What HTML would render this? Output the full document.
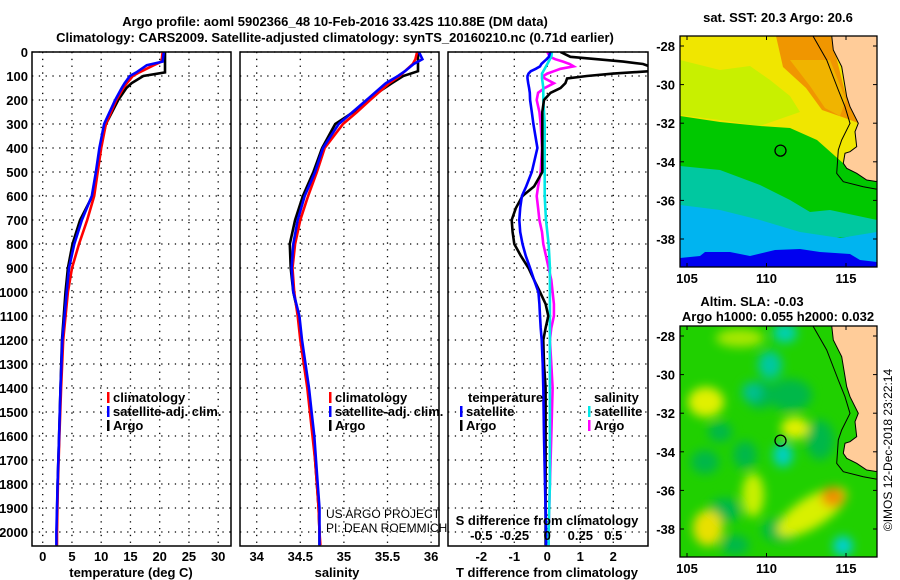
<!DOCTYPE html>
<html><head><meta charset="utf-8">
<style>
html,body{margin:0;padding:0;background:#fff;width:900px;height:580px;overflow:hidden}
svg{display:block;font-family:"Liberation Sans",Arial,sans-serif}
.b{font-weight:bold;font-size:13px}
.n{font-weight:normal;font-size:12px}
</style></head>
<body>
<svg id="fig" width="900" height="580" viewBox="0 0 900 580" xmlns="http://www.w3.org/2000/svg">
<text x="335" y="26" text-anchor="middle" class="b" font-size="14">Argo profile: aoml 5902366_48 10-Feb-2016 33.42S 110.88E (DM data)</text>
<text x="335" y="42" text-anchor="middle" class="b" font-size="14">Climatology: CARS2009. Satellite-adjusted climatology: synTS_20160210.nc (0.71d earlier)</text>
<g id="plots"></g>
<defs>
<filter id="blur" x="-30%" y="-30%" width="160%" height="160%"><feGaussianBlur stdDeviation="5"/></filter>
<clipPath id="clip1"><rect x="680" y="36" width="197" height="231"/></clipPath>
<clipPath id="clip2"><rect x="680" y="326" width="197" height="231"/></clipPath>
</defs>
<g clip-path="url(#clip1)">
<rect x="680" y="36" width="197" height="231" fill="#f0e600"/>
<polygon fill="#c8f000" points="680,60 720,70 750,66 770,80 790,96 800,112 760,126 720,120 680,115"/>
<polygon fill="#f09600" points="776,36 831,36 846,96 858,123 845,118 822,110 806,88 783,67"/>
<polygon fill="#f0b400" points="790,60 810,86 825,108 840,116 846,100 838,80 830,60"/>
<polygon fill="#00c800" points="680,116 720,122 760,126 790,128 817,140 835,156 843,163 846,168 857,173 877,182 877,250 840,240 800,225 760,215 720,205 680,200"/>
<polygon fill="#00c8a0" points="680,166 720,170 760,185 790,200 810,212 830,210 877,220 877,235 830,238 780,235 740,225 700,212 680,210"/>
<polygon fill="#00b4f0" points="680,205 720,210 760,220 800,232 840,238 877,232 877,267 680,267"/>
<polygon fill="#0000f0" points="680,258 700,256 705,252 730,252 750,256 775,250 800,249 820,252 850,254 860,260 877,262 877,267 680,267"/>
<path d="M831.7,35.7 L833.3,50 L841.7,66.7 L846.7,96.7 L850,106.7 L858.3,123.3 L855,131.7 L856.7,146.7 L850,151.7 L845,153.3 L843.3,163.3 L846.7,168.3 L856.7,173.3 L866.7,180 L877.3,181.7 L877,36 Z" fill="#ffcc99" stroke="#000" stroke-width="1"/>
<polyline points="813,36 826.7,60 838.3,90 845,106.7 850,123.3 841.7,140 838.3,150 836.7,173.3 843.3,181.7 863.3,186.7 877.3,189.3" fill="none" stroke="#000" stroke-width="1"/>
</g>
<g clip-path="url(#clip2)">
<rect x="680" y="326" width="197" height="231" fill="#20d000"/>
<g filter="url(#blur)">
<ellipse cx="705" cy="462" rx="14" ry="12" fill="#00b848"/>
<ellipse cx="720" cy="432" rx="12" ry="10" fill="#00b848"/>
<ellipse cx="745" cy="455" rx="12" ry="14" fill="#00b848"/>
<ellipse cx="725" cy="510" rx="16" ry="12" fill="#00b848"/>
<ellipse cx="735" cy="545" rx="14" ry="10" fill="#00b848"/>
<ellipse cx="790" cy="395" rx="22" ry="16" fill="#00b848"/>
<ellipse cx="820" cy="440" rx="14" ry="20" fill="#00b848"/>
<ellipse cx="780" cy="530" rx="18" ry="12" fill="#00b848"/>
<ellipse cx="760" cy="395" rx="14" ry="14" fill="#00b848"/>
<ellipse cx="706" cy="402" rx="18" ry="15" fill="#e0f000"/>
<ellipse cx="708" cy="528" rx="15" ry="18" fill="#e8e000"/>
<ellipse cx="812" cy="512" rx="40" ry="15" fill="#d8f000" transform="rotate(-32 812 512)"/>
<ellipse cx="833" cy="497" rx="12" ry="10" fill="#f09000"/>
<ellipse cx="795" cy="428" rx="14" ry="11" fill="#e0f000"/>
<ellipse cx="753" cy="495" rx="11" ry="22" fill="#c8f000"/>
<ellipse cx="740" cy="338" rx="24" ry="9" fill="#a8e800"/>
<ellipse cx="783" cy="455" rx="10" ry="12" fill="#00d0c0"/>
<ellipse cx="843" cy="546" rx="10" ry="10" fill="#00d0d0"/>
<ellipse cx="785" cy="333" rx="12" ry="10" fill="#00d0b0"/>
<ellipse cx="770" cy="365" rx="12" ry="14" fill="#00c8a0"/>
<ellipse cx="752" cy="392" rx="10" ry="10" fill="#00c090"/>
</g>
<path d="M831.7,325.7 L833.3,340 L841.7,356.7 L846.7,386.7 L850,396.7 L858.3,413.3 L855,421.7 L856.7,436.7 L850,441.7 L845,443.3 L843.3,453.3 L846.7,458.3 L856.7,463.3 L866.7,470 L877.3,471.7 L877,326 Z" fill="#ffcc99" stroke="#000" stroke-width="1"/>
<polyline points="813,326 826.7,350 838.3,380 845,396.7 850,413.3 841.7,430 838.3,440 836.7,463.3 843.3,471.7 863.3,476.7 877.3,479.3" fill="none" stroke="#000" stroke-width="1"/>
</g>
<g><text x="778" y="22" text-anchor="middle" class="b">sat. SST: 20.3 Argo: 20.6</text></g>
<text x="752" y="306" text-anchor="middle" class="b">Altim. SLA: -0.03</text>
<text x="778" y="321" text-anchor="middle" class="b">Argo h1000: 0.055 h2000: 0.032</text>
<text transform="translate(892,450) rotate(-90)" text-anchor="middle" class="n">©IMOS 12-Dec-2018 23:22:14</text>
<g id="maps"></g>
</svg>
<script>
// ---------- data ----------
const depthT = [0,40,55,85,100,130,150,200,300,400,500,600,700,800,900,1000,1200,1400,1600,1800,2000,2055];
const tempArgo = [20.9,20.9,20.9,20.9,17.2,15.2,14.3,12.9,10.8,9.8,9.2,8.5,6.4,5.1,4.3,3.9,3.3,3.05,2.8,2.55,2.4,2.4];
const tempClim = [20.5,20.3,19.0,16.5,15.4,14.4,13.8,12.6,10.8,10.0,9.4,8.8,7.6,6.2,5.0,4.3,3.5,3.15,2.85,2.6,2.45,2.45];
const tempSat  = [20.7,20.5,17.8,16.0,14.9,14.0,13.5,12.4,10.5,9.7,9.1,8.4,6.7,5.4,4.5,4.1,3.35,3.05,2.8,2.55,2.35,2.35];
const depthS = [0,30,50,80,100,130,200,250,300,400,500,600,700,800,900,1000,1100,1200,1300,1400,1500,1600,1700,1800,1900,2000,2055];
const salArgo = [35.85,35.85,35.85,35.85,35.68,35.55,35.26,35.11,34.90,34.75,34.65,34.53,34.44,34.38,34.39,34.42,34.48,34.51,34.55,34.59,34.62,34.65,34.67,34.69,34.71,34.72,34.72];
const salClim = [35.84,35.82,35.79,35.70,35.64,35.52,35.30,35.15,34.99,34.78,34.69,34.59,34.50,34.44,34.41,34.43,34.47,34.50,34.54,34.58,34.61,34.64,34.67,34.69,34.71,34.72,34.73];
const salSat  = [35.86,35.90,35.80,35.70,35.62,35.48,35.26,35.10,34.94,34.76,34.67,34.55,34.47,34.42,34.40,34.42,34.49,34.52,34.56,34.60,34.63,34.66,34.68,34.70,34.72,34.72,34.72];
const depthD = [0,20,30,40,50,60,70,80,90,100,110,130,150,170,200,250,300,400,500,560,600,650,700,750,800,850,900,950,1000,1050,1100,1150,1200,1300,1400,1600,1800,2000,2055];
const dTArgo = [0.4,0.7,1.5,2.3,2.9,3.1,3.1,3.1,2.0,1.2,0.6,0.55,0.4,0.1,-0.1,-0.15,-0.15,-0.15,-0.15,-0.4,-0.75,-0.95,-1.08,-1.05,-1.0,-0.8,-0.57,-0.4,-0.22,-0.05,0.03,-0.05,-0.12,-0.1,-0.05,-0.05,-0.05,-0.05,-0.05];
const dTSat  = [0.09,0.05,-0.02,-0.1,-0.18,-0.22,-0.35,-0.5,-0.57,-0.6,-0.6,-0.58,-0.55,-0.53,-0.52,-0.47,-0.42,-0.3,-0.47,-0.64,-0.77,-0.82,-0.85,-0.82,-0.75,-0.65,-0.52,-0.4,-0.27,-0.24,-0.22,-0.2,-0.17,-0.14,-0.12,-0.1,-0.07,-0.04,-0.04];
const dSArgo = [0.0,0.02,0.06,0.12,0.17,0.2,0.1,0.05,0.0,-0.03,-0.02,0.05,-0.02,-0.07,-0.08,-0.06,-0.05,-0.04,-0.05,-0.07,-0.08,-0.07,-0.06,-0.04,-0.03,-0.01,0.01,0.03,0.04,0.05,0.05,0.03,0.02,0.03,0.04,0.03,0.02,0.01,0.01];
const dSSat  = [0.035,0.03,0.02,0.01,0.0,-0.01,-0.02,-0.03,-0.04,-0.04,-0.04,-0.035,-0.03,-0.03,-0.03,-0.025,-0.02,-0.02,-0.02,-0.02,-0.02,-0.015,-0.01,0.0,0.01,0.015,0.02,0.02,0.02,0.02,0.02,0.02,0.02,0.02,0.02,0.02,0.02,0.01,0.01];
const depthTicks = [0,100,200,300,400,500,600,700,800,900,1000,1100,1200,1300,1400,1500,1600,1700,1800,1900,2000];
const tempTicks = [0,5,10,15,20,25,30];
const salTicks = ["34","34.5","35","35.5","36"];
const dTTicks = [-2,-1,0,1,2];
const dSTicks = ["-0.5","-0.25","0","0.25","0.5"];
const latTicks = [-28,-30,-32,-34,-36,-38];
const lonTicks = [105,110,115];
const argoLon = 110.88, argoLat = -33.42;

// ---------- scales ----------
const TOP=52, BOT=546;
const yD = d => TOP + 0.24*d;
const xT = t => 42.7 + 5.85*t;
const xS = s => 256.7 + 87.2*(s-34);
const xdT = t => 547.3 + 33*t;
const xdS = s => 547.3 + 132*s;
const lonX = lo => 687 + 15.9*(lo-105);
const latY = (la,off) => off + 46 + 19.3*(-28-la);

const NS="http://www.w3.org/2000/svg";
const g=document.getElementById('plots');
function mk(tag,attrs,parent){const e=document.createElementNS(NS,tag);for(const k in attrs)e.setAttribute(k,attrs[k]);(parent||g).appendChild(e);return e;}
function txt(s,x,y,anchor,cls,parent){const e=mk('text',{x:x,y:y,'text-anchor':anchor||'middle',class:cls||'b'},parent);e.textContent=s;return e;}

const panels=[{x0:32,x1:231,name:'temperature-panel'},{x0:240,x1:439,name:'salinity-panel'},{x0:448,x1:648,name:'difference-panel'}];
panels.forEach(p=>{
  const pg=mk('g',{});
  
  
  p.g=pg;
  depthTicks.forEach(d=>{mk('line',{x1:p.x0,x2:p.x1,y1:yD(d),y2:yD(d),stroke:'#000','stroke-width':1.3,'stroke-dasharray':'1.3,5.5'},pg);});
});
tempTicks.forEach(t=>mk('line',{x1:xT(t),x2:xT(t),y1:TOP,y2:BOT,stroke:'#000','stroke-width':1.3,'stroke-dasharray':'1.3,5.5'},panels[0].g));
salTicks.forEach(s=>mk('line',{x1:xS(+s),x2:xS(+s),y1:TOP,y2:BOT,stroke:'#000','stroke-width':1.3,'stroke-dasharray':'1.3,5.5'},panels[1].g));
dTTicks.forEach(t=>mk('line',{x1:xdT(t),x2:xdT(t),y1:TOP,y2:BOT,stroke:'#000','stroke-width':1.3,'stroke-dasharray':'1.3,5.5'},panels[2].g));

const dl=mk('g',{});


depthTicks.forEach(d=>txt(String(d),28,yD(d)+5,'end','b',dl));

function line(xs,ds,xf,color,name,parent,clipId){
  const pts=xs.map((v,i)=>xf(v).toFixed(1)+','+yD(ds[i]).toFixed(1)).join(' ');
  const e=mk('polyline',{points:pts,fill:'none',stroke:color,'stroke-width':2.6,'stroke-linejoin':'miter'},parent);
  if(clipId)e.setAttribute('clip-path','url(#'+clipId+')');
  
  
}
const defs=document.querySelector('defs');
mk('rect',{x:448,y:52,width:200,height:494},mk('clipPath',{id:'clip3'},defs));

line(tempArgo,depthT,xT,'#000','temp-argo-line',panels[0].g);
line(tempClim,depthT,xT,'#f00','temp-climatology-line',panels[0].g);
line(tempSat,depthT,xT,'#00f','temp-satellite-line',panels[0].g);
line(salArgo,depthS,xS,'#000','sal-argo-line',panels[1].g);
line(salClim,depthS,xS,'#f00','sal-climatology-line',panels[1].g);
line(salSat,depthS,xS,'#00f','sal-satellite-line',panels[1].g);
line(dSArgo,depthD,xdS,'#ff00ff','sdiff-argo-line',panels[2].g,'clip3');
line(dSSat,depthD,xdS,'#00e8e8','sdiff-satellite-line',panels[2].g,'clip3');
line(dTArgo,depthD,xdT,'#000','tdiff-argo-line',panels[2].g,'clip3');
line(dTSat,depthD,xdT,'#00f','tdiff-satellite-line',panels[2].g,'clip3');

panels.forEach(p=>mk('rect',{x:p.x0,y:TOP,width:p.x1-p.x0,height:BOT-TOP,fill:'none',stroke:'#000','stroke-width':1.5},p.g));

tempTicks.forEach(t=>txt(String(t),xT(t),561,'middle','b',panels[0].g));
salTicks.forEach(s=>txt(s,xS(+s),561,'middle','b',panels[1].g));
dTTicks.forEach(t=>txt(String(t),xdT(t),561,'middle','b',panels[2].g));
dSTicks.forEach(s=>txt(s,xdS(+s),540,'middle','b',panels[2].g));
txt('temperature (deg C)',131,577,'middle','b',panels[0].g);
txt('salinity',337,577,'middle','b',panels[1].g);
txt('T difference from climatology',547,577,'middle','b',panels[2].g);
txt('S difference from climatology',547,525,'middle','b',panels[2].g);
const c1=txt('US ARGO PROJECT',326,518,'start','n',panels[1].g);


const c2=txt('PI: DEAN ROEMMICH',326,532,'start','n',panels[1].g);



function leg(x,y,color,label,parent){
  mk('rect',{x:x,y:y-6,width:2.5,height:11,fill:color},parent);
  txt(label,x+6,y+4,'start','b',parent);
}
[['#f00','climatology'],['#00f','satellite-adj. clim.'],['#000','Argo']].forEach((l,i)=>{
  leg(107,398+14*i,l[0],l[1],panels[0].g);
  leg(329,398+14*i,l[0],l[1],panels[1].g);
});
txt('temperature',468,402,'start','b',panels[2].g);
leg(460,412,'#00f','satellite',panels[2].g);
leg(460,426,'#000','Argo',panels[2].g);
txt('salinity',594,402,'start','b',panels[2].g);
leg(588,412,'#00e8e8','satellite',panels[2].g);
leg(588,426,'#ff00ff','Argo',panels[2].g);

const mg=document.getElementById('maps');
[0,290].forEach((off,mi)=>{
  const ag=mk('g',{},mg);
  
  
  mk('rect',{x:680,y:36+off,width:197,height:231,fill:'none',stroke:'#000','stroke-width':1.3},ag);
  latTicks.forEach(la=>{
    const y=latY(la,off);
    mk('line',{x1:680,x2:684,y1:y,y2:y,stroke:'#000'},ag);
    mk('line',{x1:873,x2:877,y1:y,y2:y,stroke:'#000'},ag);
    txt(String(la),675,y+5,'end','b',ag);
  });
  lonTicks.forEach(lo=>{
    const x=lonX(lo);
    mk('line',{x1:x,x2:x,y1:263+off,y2:267+off,stroke:'#000'},ag);
    mk('line',{x1:x,x2:x,y1:36+off,y2:40+off,stroke:'#000'},ag);
    txt(String(lo),x,283+off,'middle','b',ag);
  });
  const c=mk('circle',{cx:lonX(argoLon),cy:latY(argoLat,off),r:5.5,fill:'none',stroke:'#000','stroke-width':1.3},ag);
  
  
});
</script>
</body></html>
